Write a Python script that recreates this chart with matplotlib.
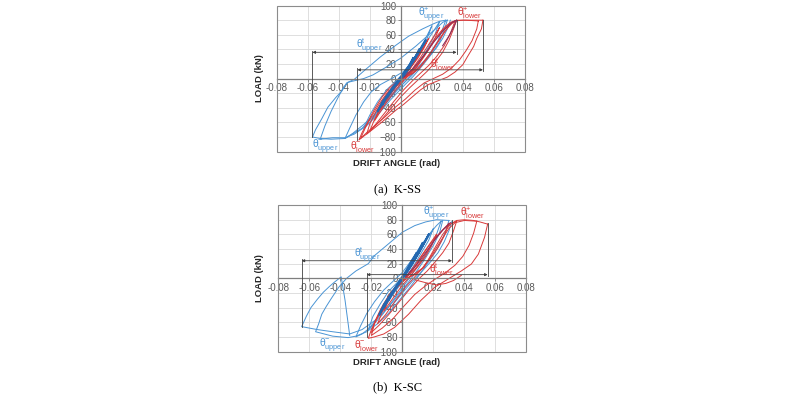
import matplotlib
matplotlib.use("Agg")
import matplotlib.pyplot as plt
from matplotlib.patches import Rectangle

plt.rcParams['font.family'] = ['Liberation Sans', 'DejaVu Sans']
plt.rcParams['mathtext.fontset'] = 'custom'
plt.rcParams['mathtext.rm'] = 'Liberation Sans'
plt.rcParams['mathtext.it'] = 'Liberation Sans'

BLUE = '#4a94d4'
DBLUE = '#2468b0'
RED = '#d83a3a'
PURPLE = '#8c2f5c'

x_ticks = [-0.08, -0.06, -0.04, -0.02, 0, 0.02, 0.04, 0.06, 0.08]
x_labels = ['-0.08', '-0.06', '-0.04', '-0.02', '0', '0.02', '0.04', '0.06', '0.08']
y_ticks = [-100, -80, -60, -40, -20, 0, 20, 40, 60, 80, 100]

# ---------------- K-SS (a) ----------------
ss_blue_1 = [(0.029, 80), (0.027, 68), (0.024, 52), (0.019, 35), (0.013, 18), (0.007, 4), (0.0, -10),
             (-0.008, -28), (-0.016, -47), (-0.024, -63), (-0.031, -75), (-0.036, -82), (-0.045, -83),
             (-0.052, -82), (-0.057, -80), (-0.055, -70), (-0.051, -55), (-0.047, -39), (-0.042, -26),
             (-0.038, -17), (-0.035, -6), (-0.03, -1), (-0.023, 12), (-0.013, 30), (-0.003, 46),
             (0.005, 58), (0.014, 68), (0.021, 75), (0.025, 78.5), (0.029, 80)]
ss_blue_2 = [(0.03, 80), (0.028, 66), (0.025, 50), (0.02, 34), (0.014, 18), (0.008, 3), (0.001, -12),
             (-0.007, -30), (-0.015, -50), (-0.023, -66), (-0.03, -76), (-0.036, -81), (-0.044, -81),
             (-0.052, -83), (-0.049, -65), (-0.045, -45), (-0.041, -28), (-0.037, -12), (-0.034, -5),
             (-0.03, -3), (-0.024, 0), (-0.018, 5), (-0.01, 15), (0.0, 28), (0.01, 45), (0.018, 60),
             (0.024, 71), (0.027, 77), (0.03, 80)]
ss_blue_3 = [(0.025, 78), (0.022, 60), (0.017, 40), (0.011, 20), (0.005, 5), (-0.002, -12),
             (-0.01, -32), (-0.018, -52), (-0.025, -68), (-0.036, -82), (-0.033, -68), (-0.029, -50),
             (-0.024, -32), (-0.019, -18), (-0.013, -8), (-0.006, 0), (0.002, 10), (0.01, 30),
             (0.017, 52), (0.022, 68), (0.025, 78)]
ss_blue_4 = [(0.02, 72), (0.017, 55), (0.012, 35), (0.006, 15), (0.0, -2), (-0.007, -22),
             (-0.014, -42), (-0.02, -60), (-0.024, -68), (-0.02, -50), (-0.015, -32), (-0.009, -15),
             (-0.003, -3), (0.004, 12), (0.011, 36), (0.016, 55), (0.02, 72)]
ss_blue_5 = [(0.032, 80), (0.03, 68), (0.027, 55), (0.023, 42), (0.018, 30), (0.013, 20),
             (0.008, 8), (0.002, -6), (-0.005, -22), (-0.012, -40), (-0.018, -55)]
ss_dblue_1 = [(0.012, 40), (0.009, 28), (0.005, 14), (0.0, 0), (-0.005, -14), (-0.01, -28),
              (-0.012, -36), (-0.009, -24), (-0.004, -10), (0.001, 3), (0.006, 18), (0.01, 32), (0.012, 40)]
ss_dblue_2 = [(0.008, 28), (0.005, 16), (0.001, 4), (-0.003, -8), (-0.007, -20), (-0.009, -26),
              (-0.006, -14), (-0.002, -3), (0.002, 8), (0.006, 20), (0.008, 28)]
ss_dblue_3 = [(0.016, 52), (0.012, 38), (0.007, 22), (0.002, 6), (-0.004, -10), (-0.01, -28),
              (-0.015, -45), (-0.012, -32), (-0.007, -18), (-0.002, -6), (0.004, 10), (0.01, 30), (0.016, 52)]
ss_red_1 = [(0.053, 80), (0.052, 68), (0.049, 55), (0.047, 44), (0.043, 30), (0.04, 19), (0.035, 9),
            (0.03, 2), (0.024, -3), (0.018, -8), (0.013, -15), (0.008, -24), (0.002, -35), (-0.003, -43),
            (-0.008, -52), (-0.013, -61), (-0.019, -71), (-0.024, -79), (-0.027, -84), (-0.025, -74),
            (-0.021, -58), (-0.017, -42), (-0.012, -25), (-0.007, -12), (-0.002, -3), (0.003, 3),
            (0.008, 8), (0.013, 18), (0.02, 38), (0.026, 58), (0.031, 72), (0.035, 79), (0.04, 80),
            (0.047, 80), (0.053, 80)]
ss_red_2 = [(0.05, 79), (0.049, 68), (0.046, 52), (0.042, 38), (0.038, 26), (0.033, 15), (0.027, 6),
            (0.021, 0), (0.015, -6), (0.009, -16), (0.003, -28), (-0.004, -40), (-0.01, -52),
            (-0.016, -63), (-0.022, -74), (-0.026, -82), (-0.023, -68), (-0.019, -52), (-0.014, -35),
            (-0.009, -20), (-0.004, -8), (0.001, 0), (0.007, 6), (0.012, 14), (0.018, 30), (0.024, 50),
            (0.029, 66), (0.033, 76), (0.036, 80), (0.042, 80), (0.05, 79)]
ss_red_3 = [(0.036, 80), (0.034, 68), (0.031, 52), (0.027, 36), (0.022, 22), (0.017, 10), (0.012, 0),
            (0.006, -12), (0.0, -25), (-0.006, -40), (-0.012, -55), (-0.018, -68), (-0.022, -76),
            (-0.02, -62), (-0.016, -45), (-0.011, -28), (-0.006, -14), (-0.001, -4), (0.004, 4),
            (0.01, 15), (0.016, 35), (0.022, 55), (0.028, 70), (0.032, 77), (0.036, 80)]
ss_red_4 = [(0.035, 79), (0.032, 62), (0.028, 45), (0.023, 30), (0.018, 18), (0.013, 8), (0.008, -2),
            (0.002, -15), (-0.004, -30), (-0.01, -46), (-0.016, -62), (-0.02, -72), (-0.017, -56),
            (-0.012, -38), (-0.007, -22), (-0.002, -9), (0.003, 0), (0.009, 12), (0.015, 30),
            (0.021, 50), (0.027, 66), (0.031, 74), (0.035, 79)]
ss_red_5 = [(0.025, 70), (0.022, 55), (0.018, 40), (0.013, 25), (0.008, 12), (0.003, 0), (-0.003, -15),
            (-0.009, -32), (-0.014, -48), (-0.017, -58), (-0.014, -42), (-0.009, -26), (-0.004, -12),
            (0.001, -2), (0.007, 12), (0.013, 30), (0.019, 50), (0.025, 70)]
ss_red_6 = [(0.018, 55), (0.015, 42), (0.011, 28), (0.006, 14), (0.001, 0), (-0.005, -16),
            (-0.011, -35), (-0.013, -42), (-0.01, -28), (-0.005, -14), (0.0, -2), (0.006, 14),
            (0.012, 34), (0.018, 55)]
ss_purple_1 = [(0.002, 2), (0.008, 14), (0.015, 32), (0.022, 52), (0.028, 67), (0.033, 77), (0.036, 80),
               (0.034, 70), (0.031, 58), (0.027, 45)]

# ---------------- K-SC (b) ----------------
sc_blue_1 = [(0.03, 79), (0.028, 65), (0.025, 50), (0.021, 35), (0.016, 20), (0.011, 5), (0.005, -12),
             (-0.002, -30), (-0.009, -48), (-0.016, -62), (-0.023, -73), (-0.03, -79), (-0.035, -81),
             (-0.045, -79), (-0.056, -73), (-0.054, -62), (-0.052, -49), (-0.049, -38), (-0.046, -28),
             (-0.041, -12), (-0.036, 0), (-0.03, 10), (-0.022, 20), (-0.018, 31), (-0.009, 47),
             (0.0, 63), (0.008, 72), (0.015, 77), (0.022, 80), (0.03, 79)]
sc_blue_2 = [(0.026, 79), (0.024, 62), (0.02, 45), (0.015, 28), (0.01, 12), (0.004, -5), (-0.003, -24),
             (-0.01, -42), (-0.018, -58), (-0.026, -70), (-0.034, -76), (-0.045, -73), (-0.055, -70),
             (-0.065, -66), (-0.062, -52), (-0.059, -40), (-0.055, -29), (-0.051, -19), (-0.047, -11),
             (-0.044, -5.5), (-0.0395, 2), (-0.037, -30), (-0.034, -78)]
sc_blue_3 = [(0.025, 78), (0.022, 60), (0.018, 42), (0.013, 25), (0.007, 8), (0.001, -10), (-0.006, -30),
             (-0.013, -50), (-0.02, -66), (-0.026, -76), (-0.03, -80), (-0.027, -65), (-0.023, -48),
             (-0.018, -32), (-0.012, -16), (-0.006, -4), (0.0, 8), (0.006, 25), (0.012, 45),
             (0.018, 62), (0.022, 72), (0.025, 78)]
sc_blue_4 = [(0.02, 68), (0.017, 52), (0.012, 34), (0.007, 16), (0.001, -2), (-0.006, -22),
             (-0.013, -45), (-0.019, -62), (-0.022, -70), (-0.019, -52), (-0.014, -34), (-0.009, -18),
             (-0.003, -5), (0.003, 10), (0.009, 30), (0.015, 50), (0.02, 68)]
sc_blue_5 = [(0.032, 78), (0.03, 65), (0.027, 50), (0.023, 35), (0.018, 22), (0.012, 8), (0.006, -5),
             (0.0, -20), (-0.007, -38)]
sc_dblue_1 = [(0.013, 48), (0.01, 34), (0.006, 18), (0.0, 0), (-0.005, -16), (-0.01, -32),
              (-0.012, -40), (-0.009, -27), (-0.004, -12), (0.001, 3), (0.006, 20), (0.01, 36), (0.013, 48)]
sc_dblue_2 = [(0.009, 34), (0.006, 20), (0.002, 6), (-0.003, -9), (-0.007, -22), (-0.009, -30),
              (-0.006, -17), (-0.002, -4), (0.002, 9), (0.006, 24), (0.009, 34)]
sc_dblue_3 = [(0.017, 60), (0.013, 44), (0.008, 26), (0.002, 6), (-0.004, -12), (-0.01, -32),
              (-0.015, -50), (-0.012, -36), (-0.007, -20), (-0.002, -6), (0.004, 12), (0.011, 36), (0.017, 60)]
sc_red_1 = [(0.055, 74), (0.053, 56), (0.049, 33), (0.0445, 19.5), (0.038, 10), (0.0295, -1),
            (0.021, -12), (0.012, -30), (0.004, -49), (-0.005, -67), (-0.012, -76), (-0.018, -80),
            (-0.022, -82), (-0.02, -70), (-0.016, -52), (-0.012, -35), (-0.007, -20), (-0.002, -8),
            (0.003, 0), (0.008, 5), (0.014, 15), (0.02, 38), (0.026, 60), (0.031, 74), (0.035, 79),
            (0.04, 80), (0.046, 79), (0.05, 77), (0.055, 74)]
sc_red_2 = [(0.048, 78), (0.046, 62), (0.043, 45), (0.039, 30), (0.034, 18), (0.028, 8), (0.022, 0),
            (0.015, -10), (0.008, -22), (0.001, -38), (-0.006, -55), (-0.013, -68), (-0.02, -78),
            (-0.018, -62), (-0.014, -45), (-0.009, -28), (-0.004, -12), (0.001, -2), (0.007, 5),
            (0.013, 14), (0.019, 32), (0.025, 52), (0.03, 68), (0.034, 76), (0.04, 79), (0.048, 78)]
sc_red_3 = [(0.035, 78), (0.033, 65), (0.03, 48), (0.026, 35), (0.021, 22), (0.016, 10), (0.011, 0),
            (0.005, -14), (-0.002, -32), (-0.009, -50), (-0.015, -64), (-0.02, -74), (-0.018, -60),
            (-0.014, -42), (-0.009, -24), (-0.004, -10), (0.002, 0), (0.008, 12), (0.014, 30),
            (0.02, 50), (0.026, 66), (0.031, 74), (0.035, 78)]
sc_red_4 = [(0.03, 75), (0.027, 58), (0.023, 42), (0.018, 27), (0.013, 14), (0.008, 2), (0.002, -12),
            (-0.005, -32), (-0.011, -50), (-0.016, -62), (-0.013, -46), (-0.009, -30), (-0.004, -14),
            (0.001, -3), (0.007, 12), (0.013, 32), (0.019, 50), (0.025, 64), (0.03, 75)]
sc_red_5 = [(0.022, 60), (0.019, 45), (0.015, 30), (0.01, 16), (0.005, 3), (-0.001, -12),
            (-0.007, -30), (-0.012, -45), (-0.009, -30), (-0.005, -16), (0.0, -4), (0.006, 12),
            (0.012, 30), (0.017, 45), (0.022, 60)]
sc_red_6 = [(0.008, -2), (0.015, -6), (0.022, -9), (0.028, -7), (0.033, -3), (0.038, 4)]
sc_purple_1 = [(0.002, 2), (0.009, 18), (0.016, 38), (0.022, 56), (0.027, 68), (0.031, 76)]

# dimension lines: (x_left, x_right, y_level, y_left_end, y_right_end)
ss_dims = [(-0.057, 0.036, 36, -80, 80), (-0.028, 0.053, 12, -84, 80)]
sc_dims = [(-0.065, 0.032, 24, -66, 79), (-0.023, 0.055, 5, -80, 75)]

# labels: (x, y, sign, subscript, colour)
ss_labels = [(0.011, 88, '+', 'upper', BLUE), (0.036, 88, '+', 'lower', RED),
             (-0.029, 44, 't', 'upper', BLUE), (0.019, 19, 't', 'lower', RED),
             (-0.057, -93, '-', 'upper', BLUE), (-0.033, -93, '-', 'lower', RED)]
sc_labels = [(0.013, 88, '+', 'upper', BLUE), (0.037, 88, '+', 'lower', RED),
             (-0.031, 32, 't', 'upper', BLUE), (0.017, 12, 't', 'lower', RED),
             (-0.054, -92, '-', 'upper', BLUE), (-0.031, -92, '-', 'lower', RED)]


def draw_loops(ax, loops, color, lw):
    for loop in loops:
        xs = [p[0] for p in loop]
        ys = [p[1] for p in loop]
        ax.plot(xs, ys, color=color, lw=lw, solid_joinstyle='round')


def setup_axes(ax):
    ax.set_xlim(-0.08, 0.08)
    ax.set_ylim(-100, 100)
    ax.set_xticks(x_ticks)
    ax.set_xticklabels(x_labels)
    ax.set_yticks(y_ticks)
    ax.grid(True, color='#d9d9d9', lw=0.6)
    ax.set_axisbelow(True)
    for s in ['top', 'right']:
        ax.spines[s].set_visible(False)
    ax.spines['left'].set_position(('data', 0))
    ax.spines['bottom'].set_position(('data', 0))
    ax.spines['left'].set_color('#7f7f7f')
    ax.spines['bottom'].set_color('#7f7f7f')
    ax.spines['left'].set_linewidth(0.9)
    ax.spines['bottom'].set_linewidth(0.9)
    ax.tick_params(axis='both', labelsize=7, colors='#7f7f7f', labelcolor='#595959',
                   length=2, width=0.6, pad=1.5)
    ax.add_patch(Rectangle((0, 0), 1, 1, transform=ax.transAxes, fill=False,
                           edgecolor='#8c8c8c', lw=0.8, clip_on=False, zorder=5))


def draw_dims(ax, dims):
    for xl, xr, yl, yle, yre in dims:
        ax.plot([xl, xl], [yl + 2, yle], color='#404040', lw=0.6, zorder=6)
        ax.plot([xr, xr], [yre, yl - 2], color='#404040', lw=0.6, zorder=6)
        ax.annotate('', xy=(xr, yl), xytext=(xl, yl),
                    arrowprops=dict(arrowstyle='<|-|>', color='#404040', lw=0.6,
                                    mutation_scale=4, shrinkA=0, shrinkB=0), zorder=6)


def draw_labels(ax, labels):
    for x, y, sign, sub, col in labels:
        ax.text(x, y, r'$\mathregular{\theta^{%s}_{%s}}$' % (sign, sub), color=col,
                fontsize=7.5, ha='left', va='center', zorder=7)


def panel(ax, blues, dblues, reds, purples, dims, labels):
    setup_axes(ax)
    draw_loops(ax, blues, BLUE, 0.7)
    draw_loops(ax, reds, RED, 0.7)
    draw_loops(ax, purples, PURPLE, 0.8)
    draw_loops(ax, dblues, DBLUE, 1.4)
    draw_dims(ax, dims)
    draw_labels(ax, labels)


def main():
    fig = plt.figure(figsize=(8, 3.99), dpi=100)
    ax1 = fig.add_axes([0.346, 0.620, 0.310, 0.366])
    ax2 = fig.add_axes([0.348, 0.119, 0.310, 0.367])

    panel(ax1, [ss_blue_1, ss_blue_2, ss_blue_3, ss_blue_4, ss_blue_5],
          [ss_dblue_1, ss_dblue_2, ss_dblue_3],
          [ss_red_1, ss_red_2, ss_red_3, ss_red_4, ss_red_5, ss_red_6],
          [ss_purple_1], ss_dims, ss_labels)
    panel(ax2, [sc_blue_1, sc_blue_2, sc_blue_3, sc_blue_4, sc_blue_5],
          [sc_dblue_1, sc_dblue_2, sc_dblue_3],
          [sc_red_1, sc_red_2, sc_red_3, sc_red_4, sc_red_5, sc_red_6],
          [sc_purple_1], sc_dims, sc_labels)

    lab = dict(fontsize=6.8, fontweight='bold', color='#262626')
    fig.text(0.325, 0.805, 'LOAD (kN)', rotation=90, ha='center', va='center', **lab)
    fig.text(0.325, 0.302, 'LOAD (kN)', rotation=90, ha='center', va='center', **lab)
    fig.text(0.496, 0.591, 'DRIFT ANGLE (rad)', ha='center', va='center', **lab)
    fig.text(0.496, 0.091, 'DRIFT ANGLE (rad)', ha='center', va='center', **lab)

    cap = dict(fontsize=9, family='Liberation Serif', ha='center', va='center', color='black')
    fig.text(0.497, 0.524, '(a)  K-SS', **cap)
    fig.text(0.497, 0.030, '(b)  K-SC', **cap)

    fig.savefig('out.png', dpi=100)


if __name__ == '__main__':
    main()
